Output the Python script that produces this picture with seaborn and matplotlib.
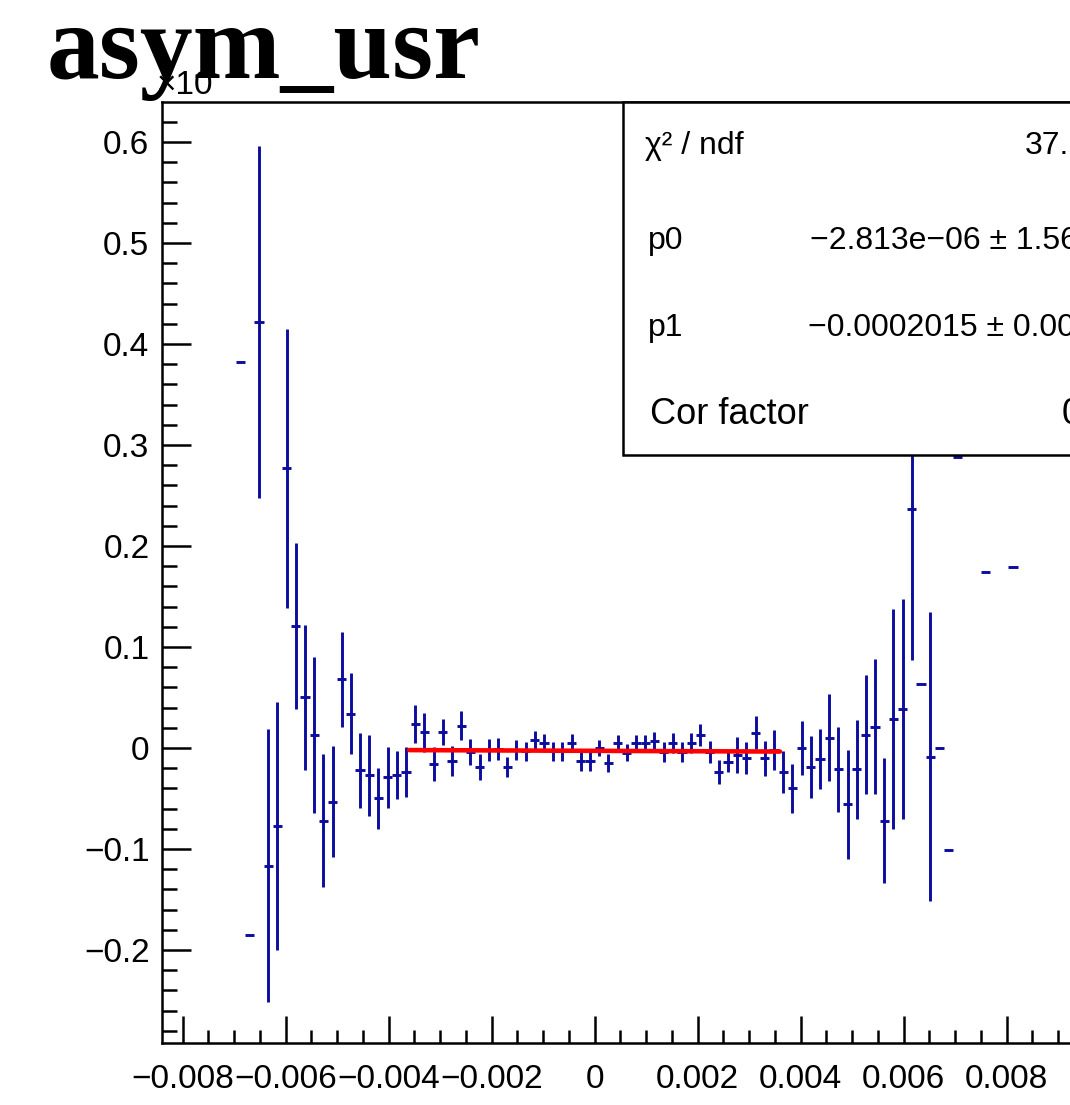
import matplotlib
matplotlib.use("Agg")
import matplotlib.pyplot as plt
import seaborn as sns
import numpy as np
import pandas as pd
from matplotlib.ticker import MultipleLocator, FuncFormatter
from matplotlib.patches import Rectangle

# ---------------- data ----------------
# bin index (bin centre = index * bin_width), y values in units of 1e-3
bin_width = 1.0 / 5600.0
bin_index = [-38.5, -37.5, -36.5, -35.5, -34.5, -33.5, -32.5, -31.5, -30.5, -29.5,
             -28.5, -27.5, -26.5, -25.5, -24.5, -23.5, -22.5, -21.5, -20.5, -19.5,
             -18.5, -17.5, -16.5, -15.5, -14.5, -13.5, -12.5, -11.5, -10.5, -9.5,
             -8.5, -7.5, -6.5, -5.5, -4.5, -3.5, -2.5, -1.5, -0.5, 0.5,
             1.5, 2.5, 3.5, 4.5, 5.5, 6.5, 7.5, 8.5, 9.5, 10.5,
             11.5, 12.5, 13.5, 14.5, 15.5, 16.5, 17.5, 18.5, 19.5, 20.5,
             21.5, 22.5, 23.5, 24.5, 25.5, 26.5, 27.5, 28.5, 29.5, 30.5,
             31.5, 32.5, 33.5, 34.5, 35.5, 36.5, 37.5, 38.5, 39.5, 42.5,
             45.5]
asym = [0.3825, -0.185, 0.422, -0.1165, -0.077, 0.277, 0.121, 0.050, 0.013, -0.072,
        -0.053, 0.068, 0.034, -0.022, -0.027, -0.050, -0.029, -0.027, -0.024, 0.024,
        0.0155, -0.016, 0.0155, -0.013, 0.022, -0.004, -0.019, -0.002, -0.001, -0.0185,
        -0.002, -0.003, 0.008, 0.005, -0.003, -0.003, 0.005, -0.013, -0.013, 0.0,
        -0.015, 0.005, -0.0046, 0.005, 0.005, 0.007, -0.0037, 0.005, -0.0037, 0.005,
        0.013, -0.0043, -0.0235, -0.0135, -0.007, -0.010, 0.015, -0.010, -0.002, -0.024,
        -0.040, 0.0, -0.019, -0.011, 0.010, -0.021, -0.0557, -0.021, 0.013, 0.021,
        -0.072, 0.029, 0.039, 0.237, 0.063, -0.0086, 0.0, -0.101, 0.2885, 0.174,
        0.179]
asym_err = [0.0, 0.0, 0.174, 0.135, 0.123, 0.138, 0.082, 0.072, 0.077, 0.066,
            0.055, 0.047, 0.040, 0.037, 0.040, 0.030, 0.030, 0.024, 0.025, 0.019,
            0.019, 0.017, 0.013, 0.015, 0.0144, 0.013, 0.0127, 0.011, 0.011, 0.010,
            0.010, 0.0094, 0.0087, 0.009, 0.0094, 0.0094, 0.009, 0.0094, 0.0094, 0.008,
            0.009, 0.008, 0.0086, 0.008, 0.008, 0.0087, 0.0099, 0.010, 0.0099, 0.010,
            0.0107, 0.011, 0.012, 0.0107, 0.018, 0.016, 0.0165, 0.0173, 0.0195, 0.021,
            0.024, 0.027, 0.031, 0.030, 0.043, 0.042, 0.054, 0.049, 0.059, 0.067,
            0.062, 0.109, 0.109, 0.150, 0.0, 0.143, 0.0, 0.0, 0.0, 0.0,
            0.0]

# fit (pol1) parameters from the stats box
fit_p0 = -2.813e-06
fit_p1 = -0.0002015
fit_range = [-0.0036, 0.0036]
y_unit = 1e-3

title_text = "asym_usr"
y_multiplier_text = "\u00d710"
stat_names = ["\u03c7\u00b2 / ndf", "p0", "p1", "Cor factor"]
stat_values = ["37.", "\u22122.813e\u221206 \u00b1 1.56", "\u22120.0002015 \u00b1 0.00", "0"]

# ---------------- figure ----------------
sns.set_theme(style="ticks")
plt.rcParams['font.family'] = ['Liberation Sans', 'DejaVu Sans']
plt.rcParams['axes.unicode_minus'] = True
plt.rcParams['text.color'] = 'black'

W, H = 1070, 1105
fig = plt.figure(figsize=(W / 100, H / 100), dpi=100)
fig.patch.set_facecolor("white")

xmin, xmax = -0.0084, 0.0099
ymin, ymax = -0.2921, 0.6396
px_per_x = 51500.0
ax_left_px, ax_top_px, ax_bot_px = 162, 102, 1043
ax_w = (xmax - xmin) * px_per_x / W
ax = fig.add_axes([ax_left_px / W, 1 - ax_bot_px / H, ax_w, (ax_bot_px - ax_top_px) / H])
ax.set_facecolor("white")

df = pd.DataFrame({"k": bin_index, "asym": asym, "err": asym_err})
df["x"] = df["k"] * bin_width

blue = "#0c0c9e"
ax.errorbar(df["x"], df["asym"], xerr=bin_width / 2, yerr=df["err"], fmt="none",
            ecolor=blue, elinewidth=2.1, capsize=0, zorder=3)

fit_df = pd.DataFrame({"x": fit_range})
fit_df["y"] = (fit_p0 + fit_p1 * fit_df["x"]) / y_unit
sns.lineplot(data=fit_df, x="x", y="y", color="#ff0000", linewidth=3.3, ax=ax, zorder=4)

ax.set_xlim(xmin, xmax)
ax.set_ylim(ymin, ymax)
ax.set_xlabel("")
ax.set_ylabel("")

ax.xaxis.set_major_locator(MultipleLocator(0.002))
ax.xaxis.set_minor_locator(MultipleLocator(0.0005))
ax.yaxis.set_major_locator(MultipleLocator(0.1))
ax.yaxis.set_minor_locator(MultipleLocator(0.02))


def fmt_x(v, pos):
    if abs(v) < 1e-9:
        return "0"
    return f"{v:.3f}".replace("-", "\u2212")


def fmt_y(v, pos):
    if abs(v) < 1e-9:
        return "0"
    return f"{v:.1f}".replace("-", "\u2212")


ax.xaxis.set_major_formatter(FuncFormatter(fmt_x))
ax.yaxis.set_major_formatter(FuncFormatter(fmt_y))

ax.tick_params(axis="both", which="both", direction="in", top=False, right=False,
               width=1.8, color="black", labelcolor="black", labelsize=24)
ax.tick_params(axis="y", which="major", length=21, pad=9)
ax.tick_params(axis="y", which="minor", length=11)
ax.tick_params(axis="x", which="major", length=19.5, pad=15)
ax.tick_params(axis="x", which="minor", length=9.5)
for s in ax.spines.values():
    s.set_linewidth(1.8)
    s.set_color("black")
ax.grid(False)

# multiplier label of the y axis (exponent hidden under the title)
fig.text(157 / W, 1 - 86 / H, y_multiplier_text, fontsize=24, ha="left", va="center",
         color="black", zorder=5)

# title
fig.text(47 / W, 1 - 78 / H, title_text, fontsize=76, fontweight="bold",
         family=["Liberation Serif", "DejaVu Serif"], ha="left", va="baseline",
         color="black", zorder=6)

# stats box
box_left, box_top, box_bot = 623, 102, 455
rect = Rectangle((box_left / W, 1 - box_bot / H), 0.6, (box_bot - box_top) / H,
                 transform=fig.transFigure, facecolor="white", edgecolor="black",
                 linewidth=1.8, zorder=10)
fig.add_artist(rect)
row_y = [146, 241, 328, 414]
name_x = [645, 648, 648, 650]
name_size = [23, 23, 23, 26]
val_x = [1025, 810, 808, 1062]
val_size = [23, 23, 23, 26]
for i in range(4):
    fig.text(name_x[i] / W, 1 - row_y[i] / H, stat_names[i], fontsize=name_size[i],
             ha="left", va="center", color="black", zorder=11)
    fig.text(val_x[i] / W, 1 - row_y[i] / H, stat_values[i], fontsize=val_size[i],
             ha="left", va="center", color="black", zorder=11)

fig.savefig("out.png", dpi=100, facecolor="white")
